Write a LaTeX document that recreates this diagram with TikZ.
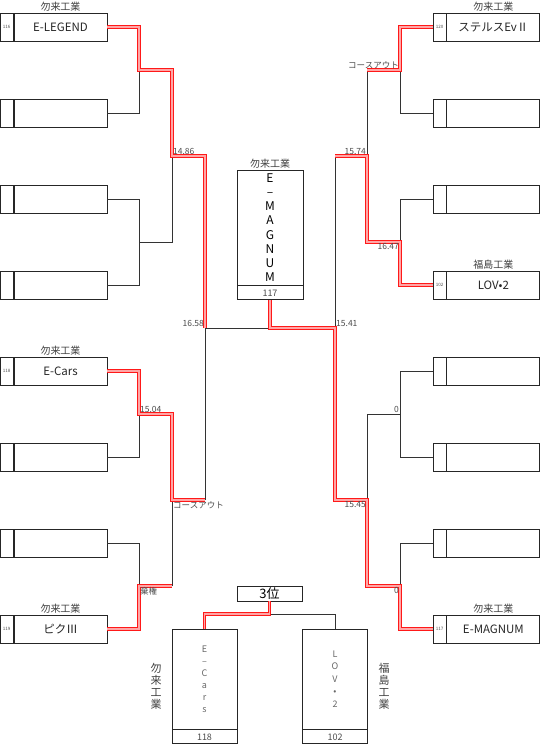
\documentclass[tikz,border=0pt]{standalone}
\usepackage{fontspec}
\setmainfont{Noto Sans CJK JP}
\usepackage{xcolor}
\usepackage{tikz}
\usetikzlibrary{positioning,calc}

\begin{document}
\begin{tikzpicture}[
  x=1pt, y=-1pt,
  font=\small,
  namebox/.style={draw=black!85,line width=0.9pt,minimum width=93pt,minimum height=28pt,inner sep=0pt,text=black!85,font=\fontsize{11.5}{13}\selectfont},
  numbox/.style={draw=black!85,line width=0.9pt,minimum width=13pt,minimum height=28pt,inner sep=0pt,text=black!70,font=\fontsize{4.5}{5}\selectfont},
  school/.style={inner sep=1pt,text=black!75,font=\fontsize{10}{12}\selectfont},
  time/.style={inner sep=1pt,text=black!70,font=\fontsize{8.5}{10}\selectfont},
  line/.style={draw=black!80,line width=1pt},
  win/.style={draw=red!90,line width=1.1pt,double=red!35,double distance=1.1pt},
]
\useasboundingbox (0,0) rectangle (540,745);

% left side
\node[namebox] (L1) at (60.5,27)  {E-LEGEND};
\node[namebox] (L2) at (60.5,113) {};
\node[namebox] (L3) at (60.5,199) {};
\node[namebox] (L4) at (60.5,285) {};
\node[namebox] (L5) at (60.5,371) {E-Cars};
\node[namebox] (L6) at (60.5,457) {};
\node[namebox] (L7) at (60.5,543) {};
\node[namebox] (L8) at (60.5,629) {ピクⅢ};
\node[numbox,left=0pt of L1] (L1n) {116};
\node[numbox,left=0pt of L2] (L2n) {};
\node[numbox,left=0pt of L3] (L3n) {};
\node[numbox,left=0pt of L4] (L4n) {};
\node[numbox,left=0pt of L5] (L5n) {118};
\node[numbox,left=0pt of L6] (L6n) {};
\node[numbox,left=0pt of L7] (L7n) {};
\node[numbox,left=0pt of L8] (L8n) {119};
\node[school,above=0pt of L1] (L1s) {勿来工業};
\node[school,above=0pt of L5] (L5s) {勿来工業};
\node[school,above=0pt of L8] (L8s) {勿来工業};

% right side
\node[numbox] (R1) at (439.5,27)  {120};
\node[numbox] (R2) at (439.5,113) {};
\node[numbox] (R3) at (439.5,199) {};
\node[numbox] (R4) at (439.5,285) {102};
\node[numbox] (R5) at (439.5,371) {};
\node[numbox] (R6) at (439.5,457) {};
\node[numbox] (R7) at (439.5,543) {};
\node[numbox] (R8) at (439.5,629) {117};
\node[namebox,right=0pt of R1] (R1t) {ステルスEvⅡ};
\node[namebox,right=0pt of R2] (R2t) {};
\node[namebox,right=0pt of R3] (R3t) {};
\node[namebox,right=0pt of R4] (R4t) {LOV•2};
\node[namebox,right=0pt of R5] (R5t) {};
\node[namebox,right=0pt of R6] (R6t) {};
\node[namebox,right=0pt of R7] (R7t) {};
\node[namebox,right=0pt of R8] (R8t) {E-MAGNUM};
\node[school,above=0pt of R1t] (R1s) {勿来工業};
\node[school,above=0pt of R4t] (R4s) {福島工業};
\node[school,above=0pt of R8t] (R8s) {勿来工業};

% champion
\node[namebox,minimum width=66pt,minimum height=115pt,align=center,text=black,
  font=\fontsize{12}{14.2}\selectfont] (F) at (270,227.5)
  {E\\–\\M\\A\\G\\N\\U\\M};
\node[numbox,minimum width=66pt,minimum height=14pt,font=\fontsize{9}{10}\selectfont,below=0pt of F] (Fn) {117};
\node[school,above=0pt of F] (Fs) {勿来工業};

% third place
\node[namebox,minimum width=65pt,minimum height=15pt,text=black,font=\fontsize{13}{14}\selectfont] (T) at (269.5,593.5) {3位};
\node[namebox,minimum width=65pt,minimum height=100pt,align=center,text=black!60,
  font=\fontsize{9}{12}\selectfont] (TL) at (204.5,679) {E\\–\\C\\a\\r\\s};
\node[namebox,minimum width=65pt,minimum height=100pt,align=center,text=black!60,
  font=\fontsize{9}{12.5}\selectfont] (TR) at (335,679) {L\\O\\V\\•\\2};
\node[numbox,minimum width=65pt,minimum height=14pt,font=\fontsize{9}{10}\selectfont,below=0pt of TL] (TLn) {118};
\node[numbox,minimum width=65pt,minimum height=14pt,font=\fontsize{9}{10}\selectfont,below=0pt of TR] (TRn) {102};
\node[school,align=center,font=\fontsize{11}{12}\selectfont] (TLs) at (156,686) {勿\\来\\工\\業};
\node[school,align=center,font=\fontsize{11}{12}\selectfont] (TRs) at (384,686) {福\\島\\工\\業};

% joints
\coordinate (a1) at (139,70);
\coordinate (a2) at (139,242);
\coordinate (a3) at (139,414);
\coordinate (a4) at (139,586);
\coordinate (b1) at (172,156);
\coordinate (b2) at (172,500);
\coordinate (c1) at (205,328);
\coordinate (d1) at (400,70);
\coordinate (d2) at (400,242);
\coordinate (d3) at (400,414);
\coordinate (d4) at (400,586);
\coordinate (e1) at (367,156);
\coordinate (e2) at (367,500);
\coordinate (f1) at (335,328);
\coordinate (g)  at (269.5,614);

% lost
\draw[line] (L2.east) -| (a1);
\draw[line] (L3.east) -| (a2);
\draw[line] (L4.east) -| (a2);
\draw[line] (a2) -| (b1);
\draw[line] (L6.east) -| (a3);
\draw[line] (L7.east) -| (a4);
\draw[line] (a4 -| b2) -- (b2);
\draw[line] (b2 -| c1) -- (c1);
\draw[line] (c1) -- (f1);
\draw[line] (R2.west) -| (d1);
\draw[line] (d1 -| e1) -- (e1);
\draw[line] (R3.west) -| (d2);
\draw[line] (e1 -| f1) -- (f1);
\draw[line] (R5.west) -| (d3);
\draw[line] (R6.west) -| (d3);
\draw[line] (d3) -| (e2);
\draw[line] (R7.west) -| (d4);
\draw[line] (g) -| (TR.north);

% won
\draw[win] (L1.east) -| (a1) -| (b1) -| (c1);
\draw[win] (L5.east) -| (a3) -| (b2) -- (b2 -| c1);
\draw[win] (L8.east) -| (a4) -- (a4 -| b2);
\draw[win] (R1.west) -| (d1) -- (d1 -| e1);
\draw[win] (R4.west) -| (d2) -| (e1) -- (e1 -| f1);
\draw[win] (R8.west) -| (d4) -| (e2) -| (f1) -| (Fn.south);
\draw[win] (T.south) -- (g) -| (TL.north);

% times
\node[time,anchor=south west] (t1)  at (b1) {14.86};
\node[time,anchor=south west] (t2)  at (a3) {15.04};
\node[time,anchor=south east] (t3)  at (c1) {16.58};
\node[time,anchor=north west] (t4)  at (b2) {コースアウト};
\node[time,anchor=north west] (t5)  at (a4) {棄権};
\node[time,anchor=south east] (t6)  at (d1) {コースアウト};
\node[time,anchor=south east] (t7)  at (e1) {15.74};
\node[time,anchor=north east] (t8)  at (d2) {16.47};
\node[time,anchor=south west] (t9)  at (f1) {15.41};
\node[time,anchor=south east] (t10) at (d3) {0};
\node[time,anchor=north east] (t11) at (e2) {15.45};
\node[time,anchor=north east] (t12) at (d4) {0};
\end{tikzpicture}
\end{document}
